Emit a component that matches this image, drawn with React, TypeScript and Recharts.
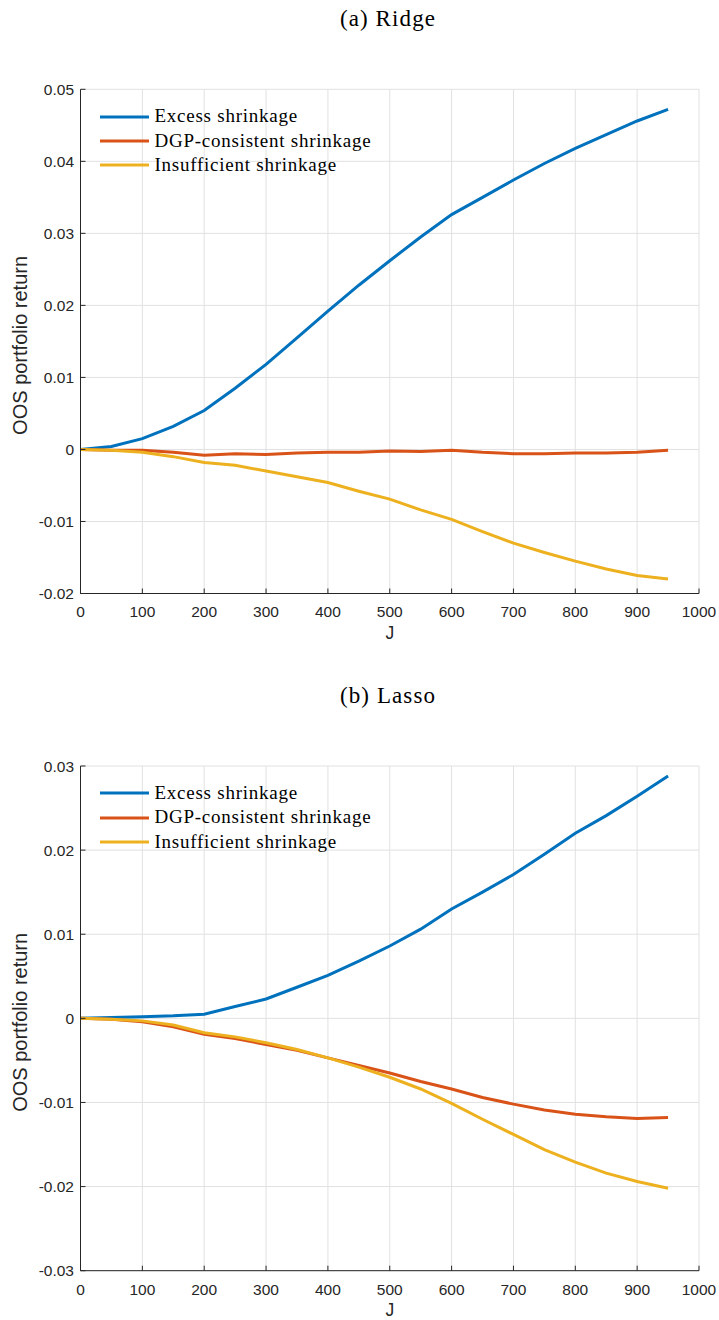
import React from 'react';
import { LineChart, Line, XAxis, YAxis, CartesianGrid, Legend, Label } from 'recharts';

// ---------- data ----------
const J = [0, 50, 100, 150, 200, 250, 300, 350, 400, 450, 500, 550, 600, 650, 700, 750, 800, 850, 900, 950];

const ridgeExcess = [0, 0.0004, 0.0015, 0.0032, 0.0054, 0.0085, 0.0118, 0.0155, 0.0192, 0.0228, 0.0262, 0.0295, 0.0326, 0.035, 0.0374, 0.0397, 0.0418, 0.0437, 0.0456, 0.0472];
const ridgeDGP = [0, -0.0001, -0.0001, -0.0004, -0.0008, -0.0006, -0.0007, -0.0005, -0.0004, -0.0004, -0.0002, -0.0003, -0.0001, -0.0004, -0.0006, -0.0006, -0.0005, -0.0005, -0.0004, -0.0001];
const ridgeInsufficient = [0, -0.0001, -0.0004, -0.001, -0.0018, -0.0022, -0.003, -0.0038, -0.0046, -0.0058, -0.0069, -0.0084, -0.0097, -0.0114, -0.013, -0.0143, -0.0155, -0.0166, -0.0175, -0.018];

const lassoExcess = [0, 0.0001, 0.0002, 0.0003, 0.0005, 0.0014, 0.0023, 0.0037, 0.0051, 0.0068, 0.0086, 0.0106, 0.013, 0.015, 0.0171, 0.0195, 0.022, 0.0241, 0.0264, 0.0288];
const lassoDGP = [0, -0.0001, -0.0004, -0.001, -0.0019, -0.0024, -0.0031, -0.0038, -0.0047, -0.0056, -0.0065, -0.0075, -0.0084, -0.0094, -0.0102, -0.0109, -0.0114, -0.0117, -0.0119, -0.0118];
const lassoInsufficient = [0, -0.0001, -0.0003, -0.0008, -0.0017, -0.0022, -0.0029, -0.0037, -0.0047, -0.0058, -0.007, -0.0084, -0.0101, -0.012, -0.0138, -0.0156, -0.0171, -0.0184, -0.0194, -0.0202];

const xTicks = [0, 100, 200, 300, 400, 500, 600, 700, 800, 900, 1000];
const ridgeYTicks = [-0.02, -0.01, 0, 0.01, 0.02, 0.03, 0.04, 0.05];
const lassoYTicks = [-0.03, -0.02, -0.01, 0, 0.01, 0.02, 0.03];

const seriesKeys = ['excess', 'dgp', 'insufficient'];
const seriesNames = ['Excess shrinkage', 'DGP-consistent shrinkage', 'Insufficient shrinkage'];
const seriesColors = ['#0072BD', '#D95319', '#EDB120'];

const titles = ['(a) Ridge', '(b) Lasso'];
const xLabel = 'J';
const yLabel = 'OOS portfolio return';

const buildRows = (a: number[], b: number[], c: number[]) =>
  J.map((j, i) => ({ J: j, excess: a[i], dgp: b[i], insufficient: c[i] }));

const ridgeRows = buildRows(ridgeExcess, ridgeDGP, ridgeInsufficient);
const lassoRows = buildRows(lassoExcess, lassoDGP, lassoInsufficient);

// ---------- styling ----------
const AXIS = '#262626';
const GRID = '#e1e1e1';
const SANS = '"Liberation Sans", Arial, Helvetica, sans-serif';
const SERIF = '"Liberation Serif", "Times New Roman", serif';

const renderLegend = (props: any) => {
  const payload = [...(props.payload || [])].sort(
    (a: any, b: any) => seriesNames.indexOf(a.value) - seriesNames.indexOf(b.value)
  );
  return (
    <div style={{ display: 'flex', flexDirection: 'column' }}>
      {payload.map((e: any) => (
        <div key={e.value} style={{ display: 'flex', alignItems: 'center', height: 24.3 }}>
          <svg width={49} height={6} style={{ display: 'block' }}>
            <line x1={0} x2={49} y1={3} y2={3} stroke={e.color} strokeWidth={3} />
          </svg>
          <span
            style={{
              marginLeft: 5.5,
              fontFamily: SERIF,
              fontSize: 19,
              letterSpacing: 0.75,
              color: '#000',
              lineHeight: '24.3px',
              whiteSpace: 'nowrap',
            }}
          >
            {e.value}
          </span>
        </div>
      ))}
    </div>
  );
};

const renderYLabel = (props: any) => {
  const vb = props.viewBox || { x: 0, y: 0, width: 0, height: 0 };
  const cx = 27;
  const cy = vb.y + vb.height / 2 + 4;
  return (
    <text
      x={cx}
      y={cy}
      transform={`rotate(-90, ${cx}, ${cy})`}
      textAnchor="middle"
      fontFamily={SANS}
      fontSize={20}
      fill={AXIS}
    >
      {yLabel}
    </text>
  );
};

const renderXLabel = (props: any) => {
  const vb = props.viewBox || { x: 0, y: 0, width: 0, height: 0 };
  return (
    <text x={vb.x + vb.width / 2} y={vb.y + 45} textAnchor="middle" fontFamily={SANS} fontSize={17.5} fill={AXIS}>
      {xLabel}
    </text>
  );
};

type PanelProps = {
  rows: any[];
  yTicks: number[];
  margin: { top: number; right: number; bottom: number; left: number };
  legendTop: number;
};

const Panel = ({ rows, yTicks, margin, legendTop }: PanelProps) => (
  <LineChart width={719} height={660} data={rows} margin={margin}>
    <CartesianGrid stroke={GRID} strokeWidth={1} horizontal vertical />
    <XAxis
      dataKey="J"
      type="number"
      domain={[0, 1000]}
      ticks={xTicks}
      interval={0}
      height={40}
      allowDataOverflow
      stroke={AXIS}
      axisLine={{ stroke: AXIS, strokeWidth: 1 }}
      tickLine={{ stroke: AXIS, strokeWidth: 1 }}
      tickSize={-5}
      tickMargin={17.8}
      tick={{ fill: AXIS, fontSize: 15.5, fontFamily: SANS }}
      label={<Label content={renderXLabel} />}
    />
    <YAxis
      type="number"
      domain={[yTicks[0], yTicks[yTicks.length - 1]]}
      ticks={yTicks}
      interval={0}
      width={60}
      allowDataOverflow
      stroke={AXIS}
      axisLine={{ stroke: AXIS, strokeWidth: 1 }}
      tickLine={{ stroke: AXIS, strokeWidth: 1 }}
      tickSize={-5}
      tickMargin={11.5}
      tickFormatter={(v: number) => String(v)}
      tick={{ fill: AXIS, fontSize: 15.5, fontFamily: SANS }}
      label={<Label content={renderYLabel} />}
    />
    <Legend
      layout="vertical"
      align="center"
      verticalAlign="middle"
      content={renderLegend}
      wrapperStyle={{ left: 100, top: legendTop, width: 'auto', height: 'auto' }}
    />
    {seriesKeys.map((k, i) => (
      <Line
        key={k}
        type="linear"
        dataKey={k}
        name={seriesNames[i]}
        stroke={seriesColors[i]}
        strokeWidth={3}
        dot={false}
        activeDot={false}
        isAnimationActive={false}
      />
    ))}
  </LineChart>
);

export default function App() {
  return (
    <div style={{ position: 'absolute', left: 0, top: 0, width: 719, height: 1320, background: '#fff' }}>
      <svg width={719} height={1320} style={{ position: 'absolute', left: 0, top: 0, pointerEvents: 'none' }}>
        <text x={388} y={26} textAnchor="middle" fontFamily={SERIF} fontSize={23} letterSpacing={1.1} fill="#000">
          {titles[0]}
        </text>
        <text x={388} y={702.7} textAnchor="middle" fontFamily={SERIF} fontSize={23} letterSpacing={1.1} fill="#000">
          {titles[1]}
        </text>
      </svg>
      <div style={{ position: 'absolute', left: 0, top: 0 }}>
        <Panel rows={ridgeRows} yTicks={ridgeYTicks} margin={{ top: 89.3, right: 20, bottom: 26.5, left: 20.5 }} legendTop={104.4} />
      </div>
      <div style={{ position: 'absolute', left: 0, top: 660 }}>
        <Panel rows={lassoRows} yTicks={lassoYTicks} margin={{ top: 106, right: 20, bottom: 9.3, left: 20.5 }} legendTop={121.2} />
      </div>
    </div>
  );
}
